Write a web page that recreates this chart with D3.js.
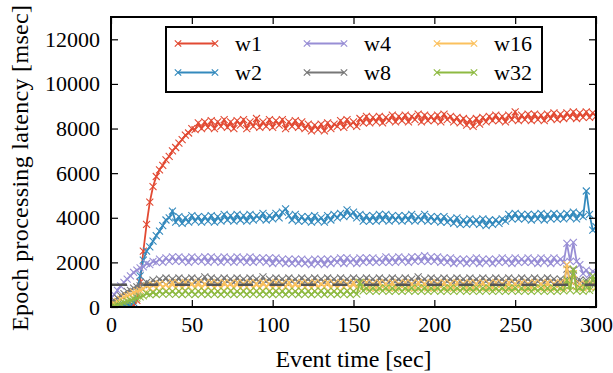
<!DOCTYPE html>
<html>
<head>
<meta charset="utf-8">
<script src="https://cdn.jsdelivr.net/npm/d3@7"></script>
<style>
  body { margin: 0; background: #fff; }
  text { font-family: "Liberation Serif", "DejaVu Serif", serif; fill: #000; }
</style>
</head>
<body>
<div id="chart"></div>
<script>
// event time in seconds, one sample every 2 sec
const times = d3.range(0, 301, 2);
const xTicks = [0, 50, 100, 150, 200, 250, 300];
const yTicks = [0, 2000, 4000, 6000, 8000, 10000, 12000];
const thresholdValue = 1000;

const w1 = [
  0, 0, 0, 0, 0, 0, 0, 50, 300, 1100,
  2500, 3700, 4700, 5400, 5850, 6150, 6350, 6600, 6750, 7000,
  7150, 7350, 7500, 7700, 7800, 8000, 7950, 8250, 8000, 8300,
  8050, 8350, 8000, 8300, 8100, 8400, 8050, 8300, 8000, 8350,
  8150, 8400, 8000, 8300, 8100, 8450, 8050, 8300, 8100, 8400,
  8050, 8350, 8150, 8400, 8000, 8300, 8100, 8350, 8050, 8300,
  8000, 8200, 7900, 8150, 7950, 8200, 7900, 8250, 8000, 8200,
  8100, 8350, 8050, 8400, 8150, 8300, 8100, 8450, 8250, 8550,
  8250, 8500, 8300, 8550, 8250, 8500, 8350, 8600, 8300, 8550,
  8350, 8600, 8300, 8550, 8400, 8650, 8300, 8600, 8350, 8550,
  8350, 8600, 8300, 8650, 8400, 8550, 8300, 8500, 8250, 8450,
  8150, 8400, 8100, 8450, 8200, 8500, 8300, 8550, 8350, 8600,
  8350, 8550, 8300, 8600, 8400, 8750, 8350, 8600, 8400, 8650,
  8350, 8650, 8400, 8600, 8350, 8650, 8450, 8700, 8400, 8650,
  8450, 8700, 8500, 8750, 8450, 8700, 8500, 8750, 8500, 8700, 8550
];
const w2 = [
  0, 50, 0, 50, 100, 100, 100, 200, 700, 1400,
  2100, 2500, 2700, 2950, 3200, 3400, 3650, 3900, 4000, 4300,
  3800, 4050, 3750, 4000, 3800, 4100, 3850, 4050, 3800, 4050,
  3850, 4100, 3800, 4050, 3850, 4150, 3900, 4100, 3850, 4150,
  3900, 4100, 3850, 4150, 3900, 4100, 3950, 4200, 3900, 4100,
  3950, 4200, 4000, 4250, 4400, 4100, 3900, 4150, 3850, 4050,
  3850, 4050, 3800, 4100, 3850, 4000, 3800, 4100, 3900, 4150,
  4000, 4200, 4050, 4350, 4100, 4250, 4000, 4150, 3850, 4100,
  3850, 4100, 3850, 4150, 3900, 4150, 3850, 4100, 3900, 4100,
  3850, 4100, 3900, 4150, 3850, 4050, 3900, 4150, 3850, 4050,
  3850, 4050, 3800, 4050, 3800, 3950, 3750, 4000, 3700, 3900,
  3700, 3950, 3750, 3900, 3700, 3950, 3650, 3900, 3700, 3900,
  3750, 3950, 3850, 4150, 3950, 4200, 3950, 4150, 3950, 4150,
  3900, 4150, 3950, 4200, 3900, 4150, 3950, 4200, 3950, 4150,
  3950, 4200, 4000, 4250, 3950, 4200, 4050, 5200, 4150, 3450, 3600
];
const w4 = [
  400, 550, 750, 950, 1100, 1250, 1400, 1550, 1650, 1750,
  1800, 1950, 1900, 2050, 2000, 2150, 2000, 2200, 2050, 2250,
  2050, 2250, 2050, 2200, 2000, 2250, 2050, 2200, 2050, 2250,
  2000, 2250, 2050, 2200, 2000, 2250, 2050, 2200, 2000, 2250,
  2050, 2200, 2000, 2250, 2000, 2200, 2050, 2200, 2000, 2200,
  1950, 2200, 2000, 2150, 1950, 2150, 1950, 2150, 1950, 2150,
  1950, 2100, 1900, 2150, 1950, 2150, 1900, 2150, 1950, 2150,
  2000, 2200, 1950, 2200, 2000, 2150, 1950, 2200, 2000, 2200,
  2000, 2200, 2000, 2150, 2000, 2250, 2000, 2200, 2000, 2250,
  2050, 2200, 2000, 2250, 2050, 2250, 2050, 2300, 2050, 2250,
  2050, 2250, 2000, 2200, 2000, 2200, 1950, 2150, 2000, 2150,
  1950, 2150, 2000, 2200, 1950, 2150, 2000, 2150, 1950, 2150,
  2000, 2200, 2000, 2150, 1950, 2200, 2000, 2150, 2000, 2200,
  2000, 2150, 1950, 2200, 2000, 2150, 1950, 2200, 2000, 2150,
  2000, 2850, 2050, 2900, 2050, 1900, 1500, 1650, 1450, 1600, 1500
];
const w8 = [
  200, 300, 400, 500, 600, 700, 750, 850, 900, 950,
  1000, 1100, 1050, 1200, 1100, 1250, 1150, 1300, 1100, 1250,
  1150, 1300, 1100, 1250, 1150, 1300, 1100, 1250, 1150, 1350,
  1100, 1300, 1150, 1250, 1100, 1300, 1150, 1250, 1100, 1300,
  1150, 1250, 1100, 1300, 1150, 1250, 1100, 1350, 1150, 1250,
  1100, 1300, 1150, 1250, 1100, 1300, 1150, 1250, 1100, 1300,
  1150, 1250, 1100, 1300, 1150, 1250, 1100, 1300, 1150, 1250,
  1100, 1300, 1150, 1250, 1100, 1300, 1150, 1250, 1100, 1300,
  1150, 1250, 1100, 1300, 1150, 1250, 1100, 1300, 1150, 1250,
  1100, 1300, 1150, 1250, 1100, 1350, 1150, 1250, 1100, 1300,
  1150, 1250, 1100, 1300, 1150, 1250, 1100, 1300, 1150, 1250,
  1100, 1300, 1150, 1250, 1100, 1300, 1150, 1250, 1100, 1300,
  1150, 1250, 1100, 1300, 1150, 1250, 1100, 1300, 1150, 1250,
  1100, 1300, 1150, 1250, 1100, 1300, 1150, 1250, 1100, 1250,
  1150, 1700, 1200, 1650, 1150, 1200, 1050, 1200, 1050, 1200, 1100
];
const w16 = [
  100, 150, 250, 350, 450, 500, 550, 650, 700, 750,
  800, 950, 850, 1000, 850, 1050, 900, 1000, 850, 1100,
  850, 1050, 850, 1100, 900, 1050, 850, 1100, 850, 1050,
  900, 1100, 850, 1050, 850, 1100, 900, 1050, 850, 1100,
  850, 1050, 900, 1100, 850, 1050, 850, 1100, 900, 1050,
  850, 1100, 850, 1050, 900, 1100, 850, 1050, 850, 1100,
  900, 1050, 850, 1100, 850, 1050, 900, 1100, 850, 1050,
  850, 1100, 900, 1050, 850, 1100, 850, 1050, 900, 1100,
  850, 1050, 850, 1100, 900, 1050, 850, 1100, 850, 1050,
  900, 1100, 850, 1050, 850, 1100, 900, 1050, 850, 1100,
  850, 1050, 900, 1100, 850, 1050, 850, 1100, 900, 1050,
  850, 1100, 850, 1050, 900, 1100, 850, 1050, 850, 1100,
  900, 1050, 850, 1100, 850, 1050, 900, 1100, 850, 1050,
  850, 1100, 900, 1050, 850, 1100, 850, 1050, 900, 1100,
  850, 1900, 950, 1500, 900, 1050, 850, 1000, 900, 1050, 900
];
const w32 = [
  0, 50, 100, 150, 200, 250, 300, 350, 400, 450,
  500, 600, 550, 650, 560, 700, 580, 700, 580, 700,
  570, 710, 560, 720, 570, 700, 560, 710, 580, 700,
  560, 720, 570, 700, 560, 710, 570, 720, 560, 700,
  580, 710, 560, 700, 570, 720, 560, 710, 570, 700,
  560, 720, 570, 700, 560, 710, 580, 700, 560, 720,
  570, 700, 560, 710, 570, 720, 560, 700, 580, 710,
  560, 700, 570, 720, 560, 700, 580, 1100, 720, 850,
  710, 860, 700, 850, 720, 860, 700, 850, 710, 860,
  700, 850, 720, 860, 700, 850, 710, 860, 700, 850,
  720, 860, 700, 850, 710, 860, 700, 850, 720, 860,
  700, 850, 710, 860, 700, 850, 720, 860, 700, 850,
  710, 860, 700, 850, 720, 860, 700, 850, 710, 860,
  700, 850, 720, 860, 700, 850, 710, 860, 700, 850,
  720, 1200, 750, 1700, 720, 860, 700, 1100, 750, 1400, 850
];

const seriesNames = ['w1', 'w2', 'w4', 'w8', 'w16', 'w32'];
const seriesValues = [w1, w2, w4, w8, w16, w32];
const seriesColors = ['#E24A33', '#348ABD', '#988ED5', '#777777', '#FBC15E', '#8EBA42'];

const width = 613, height = 373;
const margin = {top: 17, right: 17, bottom: 66, left: 111};
const innerW = width - margin.left - margin.right;
const innerH = height - margin.top - margin.bottom;

const xScale = d3.scaleLinear().domain([0, 300]).range([0, innerW]);
const yScale = d3.scaleLinear().domain([0, 13000]).range([innerH, 0]);

const svg = d3.select('#chart')
  .append('svg')
    .attr('width', width)
    .attr('height', height);

const g = svg.append('g')
  .attr('transform', `translate(${margin.left}, ${margin.top})`);

g.append('clipPath')
  .attr('id', 'plot-clip')
  .append('rect')
    .attr('width', innerW)
    .attr('height', innerH);

const plot = g.append('g').attr('clip-path', 'url(#plot-clip)');

function crossPath(size) {
  return `M${-size},${-size}L${size},${size}M${-size},${size}L${size},${-size}`;
}

seriesValues.forEach((values, k) => {
  const data = times.map((t, i) => ({t: t, v: values[i]}));
  const line = d3.line()
    .x((d) => xScale(d.t))
    .y((d) => yScale(d.v));

  const s = plot.append('g').attr('class', 'series-' + seriesNames[k]);
  s.append('path')
    .datum(data)
    .attr('fill', 'none')
    .attr('stroke', seriesColors[k])
    .attr('stroke-width', 1.8)
    .attr('d', line);

  s.selectAll('path.marker')
    .data(data)
    .enter()
    .append('path')
      .attr('class', 'marker')
      .attr('d', crossPath(3.5))
      .attr('transform', (d) => `translate(${xScale(d.t)}, ${yScale(d.v)})`)
      .attr('fill', 'none')
      .attr('stroke', seriesColors[k])
      .attr('stroke-width', 1.1);
});

// 1 second reference line
plot.append('line')
  .attr('x1', xScale(0))
  .attr('x2', xScale(300))
  .attr('y1', yScale(thresholdValue))
  .attr('y2', yScale(thresholdValue))
  .attr('stroke', '#555555')
  .attr('stroke-width', 2.5)
  .attr('stroke-dasharray', '15,16.5')
  .attr('stroke-dashoffset', -1);

// axes with inward ticks
const fontSize = 22;
const titleSize = 24;

g.append('g')
  .attr('transform', `translate(0, ${innerH})`)
  .call(d3.axisBottom(xScale).tickValues(xTicks).tickFormat(d3.format('d'))
    .tickSizeInner(-7).tickSizeOuter(0).tickPadding(9));

g.append('g')
  .call(d3.axisLeft(yScale).tickValues(yTicks).tickFormat(d3.format('d'))
    .tickSizeInner(-7).tickSizeOuter(0).tickPadding(11));

g.append('g')
  .call(d3.axisTop(xScale).tickValues(xTicks).tickSizeInner(-7).tickSizeOuter(0).tickFormat(''));

g.append('g')
  .attr('transform', `translate(${innerW}, 0)`)
  .call(d3.axisRight(yScale).tickValues(yTicks).tickSizeInner(-7).tickSizeOuter(0).tickFormat(''));

g.selectAll('.domain').remove();
g.selectAll('.tick line').attr('stroke', '#000').attr('stroke-width', 1.2);
g.selectAll('.tick text')
  .attr('font-size', fontSize)
  .attr('fill', '#000');

g.append('rect')
  .attr('width', innerW)
  .attr('height', innerH)
  .attr('fill', 'none')
  .attr('stroke', '#000')
  .attr('stroke-width', 2);

// axis titles
svg.append('text')
  .attr('x', margin.left + innerW / 2)
  .attr('y', 367)
  .attr('text-anchor', 'middle')
  .attr('font-size', titleSize)
  .attr('textLength', 156)
  .attr('lengthAdjust', 'spacing')
  .text('Event time [sec]');

svg.append('text')
  .attr('transform', 'translate(28, 168) rotate(-90)')
  .attr('text-anchor', 'middle')
  .attr('font-size', titleSize)
  .attr('textLength', 326)
  .attr('lengthAdjust', 'spacing')
  .text('Epoch processing latency [msec]');

// legend
const legend = svg.append('g').attr('transform', 'translate(166, 27)');
legend.append('rect')
  .attr('width', 376)
  .attr('height', 65)
  .attr('fill', '#fff')
  .attr('stroke', '#000')
  .attr('stroke-width', 2);

const colX = [12, 141, 271];
const rowY = [16.5, 45.5];

seriesNames.forEach((name, k) => {
  const col = Math.floor(k / 2);
  const row = k % 2;
  const item = legend.append('g')
    .attr('transform', `translate(${colX[col]}, ${rowY[row]})`);
  item.append('line')
    .attr('x1', 0).attr('x2', 37)
    .attr('stroke', seriesColors[k])
    .attr('stroke-width', 2);
  [0, 37].forEach((mx) => {
    item.append('path')
      .attr('d', crossPath(3.2))
      .attr('transform', `translate(${mx}, 0)`)
      .attr('fill', 'none')
      .attr('stroke', seriesColors[k])
      .attr('stroke-width', 1.2);
  });
  item.append('text')
    .attr('x', 57)
    .attr('y', 7)
    .attr('font-size', fontSize)
    .text(name);
});
</script>
</body>
</html>
